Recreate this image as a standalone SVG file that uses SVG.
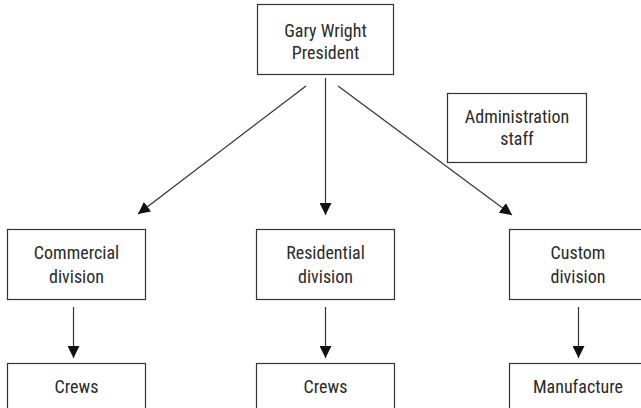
<svg xmlns="http://www.w3.org/2000/svg" width="641" height="408" viewBox="0 0 641 408">
<defs>
<style>
.box{fill:#fff;stroke:#333;stroke-width:1.2}
.t{font-family:"Liberation Sans Narrow","Roboto Condensed","Liberation Sans",sans-serif;font-size:18px;fill:#2a2a2a;text-anchor:middle}
.c{stroke:#333;stroke-width:1.2;fill:none}
</style>
<marker id="ah" viewBox="0 0 12 12" refX="12" refY="6" markerWidth="12" markerHeight="12" markerUnits="userSpaceOnUse" orient="auto">
<path d="M0,0 L12,6 L0,12 Z" fill="#111"/>
</marker>
</defs>
<rect width="641" height="408" fill="#fff"/>
<g id="connectors">
<line class="c" x1="306" y1="86" x2="138" y2="214" marker-end="url(#ah)"/>
<line class="c" x1="325.5" y1="78" x2="325.5" y2="215" marker-end="url(#ah)"/>
<line class="c" x1="338" y1="86" x2="512" y2="215" marker-end="url(#ah)"/>
<line class="c" x1="73.5" y1="307" x2="73.5" y2="358" marker-end="url(#ah)"/>
<line class="c" x1="325.5" y1="307" x2="325.5" y2="358" marker-end="url(#ah)"/>
<line class="c" x1="578.5" y1="307" x2="578.5" y2="358" marker-end="url(#ah)"/>
</g>
<g id="president">
<rect class="box" x="257.5" y="4.5" width="136" height="70"/>
<text class="t" x="325.5" y="37">Gary Wright</text>
<text class="t" x="325.5" y="59">President</text>
</g>
<g id="admin">
<rect class="box" x="447.5" y="93.5" width="139" height="69"/>
<text class="t" x="517" y="123">Administration</text>
<text class="t" x="517" y="145">staff</text>
</g>
<g id="commercial">
<rect class="box" x="7.5" y="229.5" width="138" height="70"/>
<text class="t" x="76.5" y="259">Commercial</text>
<text class="t" x="76.5" y="283">division</text>
</g>
<g id="residential">
<rect class="box" x="256.5" y="229.5" width="138" height="70"/>
<text class="t" x="325.5" y="259">Residential</text>
<text class="t" x="325.5" y="283">division</text>
</g>
<g id="custom">
<rect class="box" x="509.5" y="229.5" width="140" height="70"/>
<text class="t" x="578" y="259">Custom</text>
<text class="t" x="578" y="283">division</text>
</g>
<g id="crews1">
<rect class="box" x="7.5" y="363.5" width="138" height="60"/>
<text class="t" x="76.5" y="393">Crews</text>
</g>
<g id="crews2">
<rect class="box" x="256.5" y="363.5" width="138" height="60"/>
<text class="t" x="325.5" y="393">Crews</text>
</g>
<g id="manufacture">
<rect class="box" x="509.5" y="363.5" width="140" height="60"/>
<text class="t" x="578" y="393">Manufacture</text>
</g>
</svg>
